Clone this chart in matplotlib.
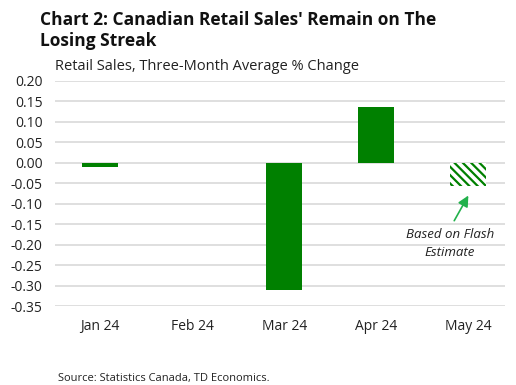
import matplotlib.pyplot as plt
import numpy as np

plt.rcParams['font.family'] = ['Open Sans', 'DejaVu Sans']
plt.rcParams['hatch.linewidth'] = 1.6

# data
months = ["Jan 24", "Feb 24", "Mar 24", "Apr 24", "May 24"]
values = [-0.01, 0.0, -0.31, 0.135, -0.057]
estimate = [False, False, False, False, True]
yticks = [0.20, 0.15, 0.10, 0.05, 0.00, -0.05, -0.10, -0.15, -0.20, -0.25, -0.30, -0.35]

green = "#008000"

fig = plt.figure(figsize=(5.16, 3.85), dpi=100)
ax = fig.add_axes([0.107, 0.205, 0.872, 0.585])

x = np.arange(len(months))
for i in range(len(months)):
    if estimate[i]:
        ax.bar(x[i], values[i], width=0.39, color="white", edgecolor=green,
               hatch="\\\\\\\\", linewidth=0, zorder=3)
    else:
        ax.bar(x[i], values[i], width=0.39, color=green, zorder=3)

ax.set_ylim(-0.35, 0.20)
ax.set_xlim(-0.49, 4.4)
ax.set_yticks(yticks)
ax.set_yticklabels([f"{v:.2f}" for v in yticks], fontsize=10, color="#222222")
ax.set_xticks(x)
ax.set_xticklabels(months, fontsize=10, color="#222222")
ax.tick_params(axis="both", length=0)
ax.tick_params(axis="x", pad=9)
ax.tick_params(axis="y", pad=9)
ax.grid(axis="y", color="#d9d9d9", linewidth=1.2, zorder=0)
for s in ax.spines.values():
    s.set_visible(False)

# annotation for the flash estimate
ax.annotate("Based on Flash\nEstimate", xy=(4.0, -0.08), xytext=(3.8, -0.198),
            ha="center", va="center", fontsize=9.5, style="italic", color="#222222",
            linespacing=1.5,
            arrowprops=dict(arrowstyle="-|>", color="#22b14c", lw=1.2,
                            mutation_scale=16, shrinkA=4, shrinkB=0,
                            relpos=(0.5, 1.0)))

fig.text(0.078, 0.972, "Chart 2: Canadian Retail Sales' Remain on The\nLosing Streak",
         fontsize=12.5, fontweight="bold", va="top", ha="left", color="#111111",
         linespacing=1.2)
fig.text(0.107, 0.826, "Retail Sales, Three-Month Average % Change", fontsize=10.5,
         va="center", ha="left", color="#222222")
fig.text(0.112, 0.018, "Source: Statistics Canada, TD Economics.", fontsize=8,
         va="center", ha="left", color="#222222")

fig.savefig("out.png", dpi=100)
